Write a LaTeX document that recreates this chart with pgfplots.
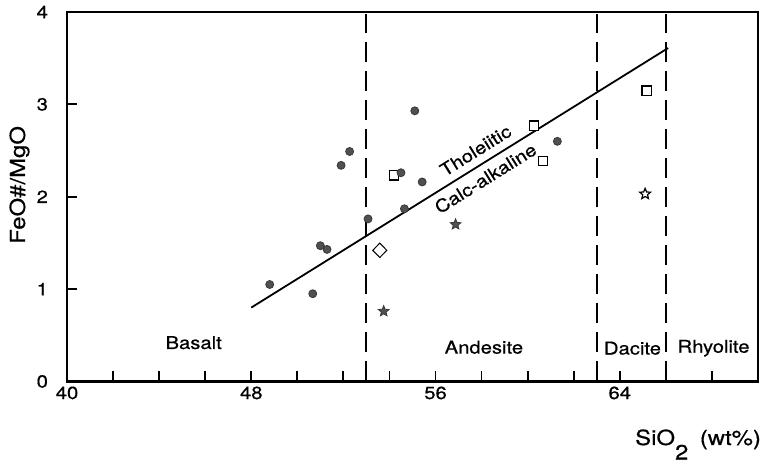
\documentclass[border=0pt]{standalone}
\usepackage{fontspec}
\setmainfont[FakeStretch=1.15, FakeBold=0.6]{TeX Gyre Heros}
\usepackage{pgfplots}
\pgfplotsset{compat=1.18}
\definecolor{dotgray}{RGB}{80,80,80}
\pgfdeclareplotmark{fstar}{%
  \pgfpathmoveto{\pgfpointpolar{90}{\pgfplotmarksize}}%
  \pgfpathlineto{\pgfpointpolar{126}{0.45\pgfplotmarksize}}%
  \pgfpathlineto{\pgfpointpolar{162}{\pgfplotmarksize}}%
  \pgfpathlineto{\pgfpointpolar{198}{0.45\pgfplotmarksize}}%
  \pgfpathlineto{\pgfpointpolar{234}{\pgfplotmarksize}}%
  \pgfpathlineto{\pgfpointpolar{270}{0.45\pgfplotmarksize}}%
  \pgfpathlineto{\pgfpointpolar{306}{\pgfplotmarksize}}%
  \pgfpathlineto{\pgfpointpolar{342}{0.45\pgfplotmarksize}}%
  \pgfpathlineto{\pgfpointpolar{18}{\pgfplotmarksize}}%
  \pgfpathlineto{\pgfpointpolar{54}{0.45\pgfplotmarksize}}%
  \pgfpathclose
  \pgfusepathqfillstroke
}
\begin{document}
\begin{tikzpicture}
\begin{axis}[
  scale only axis,
  width=345.5pt, height=184.75pt,
  xmin=40, xmax=70, ymin=0, ymax=4,
  axis line style={line width=1.1pt},
  xtick={40,42,...,70},
  xticklabels={40,,,,48,,,,56,,,,64,,,},
  ytick={0,1,2,3,4},
  xtick pos=bottom, ytick pos=left,
  tick align=inside,
  major tick length=5pt,
  tick style={line width=0.9pt, black},
  /pgf/number format/assume math mode=true,
  ticklabel style={font=\fontsize{8.8}{10}\selectfont},
  xticklabel style={yshift=1pt},
  yticklabel style={xshift=-6pt},
  xlabel={SiO\raisebox{-0.7em}{2}\hspace{0.55em}(wt\%)},
  xlabel style={at={(rel axis cs:1,0)}, anchor=base east, xshift=5pt, yshift=-31.75pt, font=\fontsize{10.4}{12}\selectfont},
  ylabel={FeO\#/MgO},
  ylabel style={at={(rel axis cs:-0.0608,0.532)}, anchor=base, font=\fontsize{10.4}{12}\selectfont},
  clip=false,
]
% boundaries
\addplot[black, line width=1pt, dash pattern=on 10pt off 4.5pt] coordinates {(53,0) (53,3.98)};
\addplot[black, line width=1pt, dash pattern=on 10pt off 4.5pt] coordinates {(63,0) (63,3.98)};
\addplot[black, line width=1pt, dash pattern=on 10pt off 4.5pt] coordinates {(66,0) (66,3.98)};
% tholeiitic / calc-alkaline divide
\addplot[black, line width=0.9pt] coordinates {(48,0.8) (66.1,3.61)};
% open squares
\addplot[only marks, mark=square*, mark size=2.3pt, mark options={fill=white, draw=black, line width=0.6pt}] coordinates {
(54.2,2.23) (60.27,2.77) (60.67,2.39) (65.16,3.15)};
% filled circles
\addplot[only marks, mark=*, mark size=2pt, mark options={fill=dotgray, draw=dotgray!70!black, line width=0.4pt}] coordinates {
(48.8,1.05) (50.67,0.95) (51.0,1.47) (51.29,1.43) (51.9,2.34) (52.27,2.49)
(53.07,1.76) (54.5,2.26) (54.65,1.87) (55.1,2.93) (55.42,2.16) (61.29,2.60)};
% open diamond
\addplot[only marks, mark=diamond*, mark size=3.6pt, mark options={xscale=1.3, fill=white, draw=black, line width=0.5pt}] coordinates {(53.58,1.42)};
% filled stars
\addplot[only marks, mark=fstar, mark size=2.8pt, mark options={fill=dotgray, draw=dotgray!70!black, line width=0.4pt}] coordinates {(53.75,0.76) (56.87,1.70)};
% open star
\addplot[only marks, mark=fstar, mark size=2.8pt, mark options={fill=white, draw=black, line width=0.6pt}] coordinates {(65.1,2.03)};
% labels
\node[font=\fontsize{8.8}{10}\selectfont] at (axis cs:45.5,0.42) {Basalt};
\node[font=\fontsize{8.8}{10}\selectfont] at (axis cs:58.1,0.37) {Andesite};
\node[font=\fontsize{8.8}{10}\selectfont] at (axis cs:64.55,0.36) {Dacite};
\node[font=\fontsize{8.8}{10}\selectfont] at (axis cs:68.07,0.36) {Rhyolite};
\node[rotate=32, font=\fontsize{8.8}{10}\selectfont] at (axis cs:57.74,2.5) {Tholeiitic};
\node[rotate=32, font=\fontsize{8.8}{10}\selectfont] at (axis cs:58.17,2.2) {Calc-alkaline};
\end{axis}
\pgfresetboundingbox
\path[use as bounding box] ([shift={(-33.5pt,-41.25pt)}]current axis.south west) rectangle ([shift={(6.5pt,6pt)}]current axis.north east);
\end{tikzpicture}
\end{document}
